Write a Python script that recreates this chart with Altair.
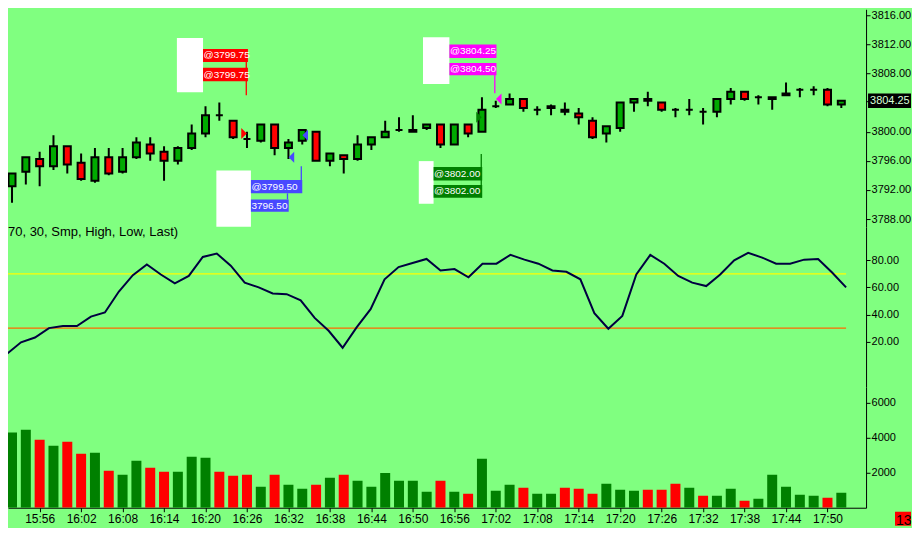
import altair as alt
import pandas as pd

# ---------------- data ----------------
times = ["15:52", "15:54", "15:56", "15:58", "16:00", "16:02", "16:04", "16:06", "16:08", "16:10",
         "16:12", "16:14", "16:16", "16:18", "16:20", "16:22", "16:24", "16:26", "16:28", "16:30",
         "16:32", "16:34", "16:36", "16:38", "16:40", "16:42", "16:44", "16:46", "16:48", "16:50",
         "16:52", "16:54", "16:56", "16:58", "17:00", "17:02", "17:04", "17:06", "17:08", "17:10",
         "17:12", "17:14", "17:16", "17:18", "17:20", "17:22", "17:24", "17:26", "17:28", "17:30",
         "17:32", "17:34", "17:36", "17:38", "17:40", "17:42", "17:44", "17:46", "17:48", "17:50",
         "17:52"]

opens = [3792.5, 3794.5, 3796.25, 3795.25, 3798, 3795.75, 3793.25, 3796.5, 3794.5, 3796.5,
         3798.25, 3797.25, 3796, 3797.75, 3799.75, 3802.25, 3801.5, 3799, 3798.75, 3801,
         3797.75, 3798.75, 3800, 3796, 3796.75, 3796.25, 3798.25, 3799.25, 3800.25, 3800,
         3800.5, 3801, 3798.25, 3801, 3800, 3803.5, 3803.75, 3804.5, 3803, 3803.25,
         3803, 3802.5, 3801.5, 3799.75, 3800.5, 3804, 3804.5, 3804, 3803, 3803,
         3802.75, 3802.75, 3804.5, 3805.5, 3804.75, 3804.5, 3805, 3805.75, 3805.75, 3805.75,
         3803.75]
highs = [3794.25, 3796.5, 3797.25, 3799.5, 3798, 3797, 3797.75, 3797.75, 3797.75, 3799.25,
         3799.25, 3798, 3798, 3801, 3803.5, 3804, 3801.5, 3800, 3801, 3801,
         3799, 3800.25, 3800, 3797, 3796.75, 3799.5, 3799.25, 3801.5, 3802, 3802.25,
         3801, 3801, 3801, 3801, 3804.75, 3804.25, 3805.25, 3804.5, 3803.5, 3803.75,
         3804, 3803.25, 3802, 3800.75, 3804, 3804.5, 3805.5, 3804, 3803.25, 3804.5,
         3803.25, 3804.5, 3806, 3805.5, 3805, 3804.75, 3806.75, 3806, 3806.25, 3806,
         3804.25]
lows = [3790.25, 3792.75, 3792.5, 3794.75, 3794.25, 3793.25, 3793, 3794, 3794.25, 3796.25,
        3796, 3793.25, 3795.5, 3797.5, 3799.25, 3801.5, 3799, 3797.75, 3798.5, 3796.75,
        3796.25, 3798.25, 3796, 3795.25, 3794.25, 3796, 3797.5, 3799.25, 3800, 3800,
        3800.25, 3797.75, 3798.25, 3799.25, 3800, 3803.25, 3803.75, 3802.75, 3802.25, 3802.25,
        3802.25, 3801, 3799, 3798.5, 3800, 3802.75, 3803.5, 3802.75, 3802, 3802.25,
        3801, 3802, 3803.75, 3804.25, 3803.75, 3803, 3805, 3804.75, 3805, 3803.5,
        3803.25]
closes = [3794.25, 3796.5, 3795.25, 3798, 3795.5, 3793.5, 3796.5, 3794.25, 3796.5, 3798.5,
          3797, 3796, 3797.75, 3799.75, 3802.25, 3802.25, 3799.25, 3799, 3801, 3797.75,
          3798.5, 3800.25, 3796, 3797, 3796.25, 3798.25, 3799.25, 3800, 3800.25, 3800.25,
          3801, 3798.25, 3801, 3799.75, 3803, 3803.5, 3804.5, 3803.25, 3803, 3803.5,
          3802.75, 3802, 3799.25, 3800.75, 3804, 3804.5, 3804.25, 3803, 3803, 3803,
          3802.75, 3804.5, 3805.5, 3804.5, 3804.75, 3804.75, 3805.25, 3805.75, 3805.75, 3803.75,
          3804.25]
volumes = [4300, 4460, 3890, 3540, 3770, 3090, 3140, 2110, 1880, 2690,
           2290, 2060, 2060, 2920, 2860, 2060, 1830, 1880, 1200, 1880,
           1310, 1090, 1310, 1710, 1880, 1540, 1200, 1990, 1540, 1540,
           910, 1540, 910, 800, 2800, 970, 1310, 1140, 800, 800,
           1140, 1090, 800, 1370, 1030, 970, 1030, 1030, 1370, 1140,
           690, 690, 1090, 400, 510, 1880, 1200, 740, 690, 570,
           860]
vol_dir = ["up", "up", "down", "up", "down", "down", "up", "down", "up", "up",
           "down", "down", "up", "up", "up", "down", "down", "down", "up", "down",
           "up", "up", "down", "up", "down", "up", "up", "up", "up", "up",
           "up", "down", "up", "down", "up", "up", "up", "down", "up", "up",
           "down", "down", "down", "up", "up", "up", "down", "down", "down", "up",
           "down", "up", "up", "down", "up", "up", "up", "up", "up", "down",
           "up"]
osc_times = ["15:50"] + times
osc_values = [8.5, 11, 19.5, 23, 30, 31.5, 31.5, 38.5, 41.5, 57, 69,
              77, 69.5, 63, 68.5, 82.5, 85, 76, 63.5, 60, 55.5,
              55, 50.5, 37.5, 28, 15.5, 30.5, 44, 66, 75, 78,
              81, 72.5, 73.5, 67.5, 77.5, 77.5, 84, 80.5, 77.5, 72.5,
              71.5, 66, 41, 29.5, 39, 69.5, 84, 77.5, 68.5, 63.5,
              61, 69.5, 80, 85.5, 82, 77.5, 77.5, 80.5, 81, 71,
              60]
osc_levels = [70, 30]
osc_title = "70, 30, Smp, High, Low, Last)"
tick_labels = ["15:56", "16:02", "16:08", "16:14", "16:20", "16:26", "16:32", "16:38", "16:44", "16:50",
               "16:56", "17:02", "17:08", "17:14", "17:20", "17:26", "17:32", "17:38", "17:44", "17:50"]
price_ticks = [3788, 3792, 3796, 3800, 3804.25, 3808, 3812, 3816]
osc_ticks = [20, 40, 60, 80]
vol_ticks = [2000, 4000, 6000]
last_price = 3804.25
timer_text = "13"

# trade fills (time, price, arrow direction, group)
fill_times = ["16:25.57", "16:32.43", "16:34.43", "16:59.57", "17:02.43"]
fill_prices = [3799.75, 3796.5, 3799.5, 3802.0, 3804.5]
fill_side = ["right", "left", "left", "right", "left"]
fill_group = ["A", "B", "B", "C", "D"]

# fill-label annotations, anchored in (time, price) units
label_text = ["@3799.75", "@3799.75", "@3799.50", "3796.50", "@3802.00", "@3802.00", "@3804.25", "@3804.50"]
label_group = ["A", "A", "B", "B", "C", "C", "D", "D"]
label_t0 = ["16:19.64", "16:19.64", "16:26.57", "16:26.57", "16:53.0", "16:53.0", "16:55.29", "16:55.29"]
label_t1 = ["16:26.14", "16:26.14", "16:34.0", "16:32.04", "17:00.04", "17:00.04", "17:02.1", "17:02.1"]
label_top = [3811.37, 3808.77, 3793.35, 3790.70, 3795.14, 3792.67, 3811.98, 3809.45]
label_bot = [3809.59, 3806.94, 3791.53, 3789.00, 3793.31, 3790.92, 3810.14, 3807.76]
blank_t0 = ["16:15.86", "16:21.57", "16:50.86", "16:51.47"]
blank_t1 = ["16:19.64", "16:26.57", "16:53.0", "16:55.29"]
blank_top = [3812.88, 3794.68, 3795.96, 3812.98]
blank_bot = [3805.43, 3786.94, 3790.10, 3806.57]
stem_t = ["16:25.9", "16:33.86", "16:31.86", "16:59.9", "17:01.86"]
stem_group = ["A", "B", "B", "C", "D"]
stem_top = [3810.37, 3795.27, 3791.53, 3796.92, 3807.90]
stem_bot = [3805.02, 3793.35, 3790.70, 3790.92, 3805.29]

group_colors = {"A": "#FF0000", "B": "#4848FF", "C": "#008000", "D": "#FF00FF"}

# ---------------- helpers ----------------
def to_min(t):
    h, m = t.split(":")
    return int(h) * 60 + float(m) - 950


X_DOM = [15 / 7, 874 / 7]
PW = 859
H_PRICE, H_OSC, H_VOL = 218, 160, 121

xs = alt.Scale(domain=X_DOM, nice=False, zero=False)
ps = alt.Scale(domain=[3786.90, 3816.82], nice=False, zero=False)
os_ = alt.Scale(domain=[-13.37, 104.54], nice=False, zero=False)
vs = alt.Scale(domain=[0, 6914], nice=False, zero=False)

FONT = "Liberation Sans"

cdf = pd.DataFrame({"m": [to_min(t) for t in times], "o": opens, "h": highs, "l": lows, "c": closes})
cdf["fill"] = ["#00AA00" if c > o else ("#FF0000" if c < o else "#000000") for o, c in zip(opens, closes)]

vdf = pd.DataFrame({"m": [to_min(t) for t in times], "v": volumes,
                    "fill": ["#008000" if d == "up" else "#FF0000" for d in vol_dir]})
odf = pd.DataFrame({"m": [to_min(t) for t in osc_times], "k": osc_values})
ldf = pd.DataFrame({"xs": [0, 0], "xe": [to_min(times[-1])] * 2, "lv": osc_levels,
                    "col": ["#FFFF00", "#FF6A00"], "w": [1.4, 1.3]})

fdf = pd.DataFrame({"m": [to_min(t) for t in fill_times], "p": fill_prices, "side": fill_side,
                    "col": [group_colors[g] for g in fill_group]})
lab = pd.DataFrame({"x1": [to_min(t) for t in label_t0], "x2": [to_min(t) for t in label_t1],
                    "y1": label_top, "y2": label_bot, "txt": label_text,
                    "col": [group_colors[g] for g in label_group]})
lab["yc"] = (lab["y1"] + lab["y2"]) / 2
wdf = pd.DataFrame({"x1": [to_min(t) for t in blank_t0], "x2": [to_min(t) for t in blank_t1],
                    "y1": blank_top, "y2": blank_bot})
sdf = pd.DataFrame({"m": [to_min(t) for t in stem_t], "y1": stem_top, "y2": stem_bot,
                    "col": [group_colors[g] for g in stem_group]})
cur = pd.DataFrame({"p": [last_price], "lo": [last_price - 1.0], "hi": [last_price + 1.0],
                    "txt": [f"{last_price:.2f}"]})

yax = dict(orient="right", title=None, labelFontSize=11, labelPadding=1)
price_axis = alt.Axis(values=price_ticks,
                      labelExpr=f"datum.value == {last_price} ? '' : format(datum.value, '.2f')", **yax)
osc_axis = alt.Axis(values=osc_ticks, format=".2f", **yax)
vol_axis = alt.Axis(values=vol_ticks, format="d", **yax)


def X(field="m"):
    return alt.X(f"{field}:Q", scale=xs, axis=None)


def PY(field):
    return alt.Y(f"{field}:Q", scale=ps, axis=price_axis)


def OY(field):
    return alt.Y(f"{field}:Q", scale=os_, axis=osc_axis)


# ---------------- price panel ----------------
white = alt.Chart(wdf).mark_rect(color="white").encode(x=X("x1"), x2="x2:Q", y=PY("y1"), y2="y2:Q")
stems = alt.Chart(sdf).mark_rule(strokeWidth=1.3).encode(
    x=X(), y=PY("y1"), y2="y2:Q", color=alt.Color("col:N", scale=None))
boxes = alt.Chart(lab).mark_rect().encode(
    x=X("x1"), x2="x2:Q", y=PY("y1"), y2="y2:Q", fill=alt.Fill("col:N", scale=None))
texts = alt.Chart(lab).mark_text(align="left", baseline="middle", dx=0.5, fontSize=10,
                                 font=FONT, color="white").encode(
    x=X("x1"), y=PY("yc"), text="txt:N")
wicks = alt.Chart(cdf).mark_rule(color="black", strokeWidth=2, clip=True).encode(
    x=X(), y=PY("l"), y2="h:Q")
bodies = alt.Chart(cdf).mark_bar(size=7, stroke="black", strokeWidth=2, clip=True).encode(
    x=X(), y=PY("o"), y2="c:Q", fill=alt.Fill("fill:N", scale=None))
tri_r = alt.Chart(fdf).transform_filter("datum.side == 'right'").mark_point(
    shape="M -0.5 -1 L 0.5 0 L -0.5 1 Z", filled=True, size=121, opacity=1).encode(
    x=X(), y=PY("p"), fill=alt.Fill("col:N", scale=None))
tri_l = alt.Chart(fdf).transform_filter("datum.side == 'left'").mark_point(
    shape="M 0.5 -1 L -0.5 0 L 0.5 1 Z", filled=True, size=121, opacity=1).encode(
    x=X(), y=PY("p"), fill=alt.Fill("col:N", scale=None))
cur_box = alt.Chart(cur).mark_rect(color="black").encode(
    x=alt.value(PW + 2), x2=alt.value(PW + 45), y=PY("lo"), y2="hi:Q")
cur_txt = alt.Chart(cur).mark_text(align="left", baseline="middle", fontSize=11, font=FONT,
                                   color="#D8FFD8").encode(
    x=alt.value(PW + 4), y=PY("p"), text="txt:N")

price = alt.layer(white, stems, boxes, texts, wicks, bodies, tri_r, tri_l, cur_box, cur_txt).properties(
    width=PW, height=H_PRICE)

# ---------------- oscillator panel ----------------
levels = alt.Chart(ldf).mark_rule(clip=True).encode(
    x=X("xs"), x2="xe:Q", y=OY("lv"),
    color=alt.Color("col:N", scale=None), strokeWidth=alt.StrokeWidth("w:Q", scale=None))
osc_line = alt.Chart(odf).mark_line(color="#000040", strokeWidth=2, clip=True).encode(
    x=X(), y=OY("k"))
osc_lab = alt.Chart(pd.DataFrame({"txt": [osc_title]})).mark_text(
    align="left", baseline="middle", fontSize=13, font=FONT, color="black").encode(
    x=alt.value(0), y=alt.value(5), text="txt:N")
osc = alt.layer(levels, osc_line, osc_lab).properties(width=PW, height=H_OSC)

# ---------------- volume panel ----------------
tick_pos = [to_min(t) for t in tick_labels]
lab_arr = "[" + ",".join(f"'{t}'" for t in tick_labels) + "]"
x_axis = alt.Axis(orient="bottom", values=tick_pos, title=None, labelFontSize=12, labelPadding=2,
                  labelExpr=f"{lab_arr}[round((datum.value - {tick_pos[0]}) / 6)]")
vbars = alt.Chart(vdf).mark_bar(size=10, clip=True).encode(
    x=alt.X("m:Q", scale=xs, axis=x_axis),
    y=alt.Y("v:Q", scale=vs, axis=vol_axis),
    fill=alt.Fill("fill:N", scale=None))
tdf = pd.DataFrame({"txt": [timer_text]})
timer_box = alt.Chart(tdf).mark_rect(color="#FF0000").encode(
    x=alt.value(PW + 29), x2=alt.value(PW + 45), y=alt.value(H_VOL + 4), y2=alt.value(H_VOL + 18))
timer_txt = alt.Chart(tdf).mark_text(align="left", baseline="alphabetic", fontSize=14,
                                     font=FONT, color="black").encode(
    x=alt.value(PW + 30), y=alt.value(H_VOL + 17), text="txt:N")
vol = alt.layer(vbars, timer_box, timer_txt).properties(width=PW, height=H_VOL)

chart = alt.vconcat(price, osc, vol, spacing=0, bounds="flush").properties(
    padding=0, background="#80FF80"
).configure_view(stroke=None).configure_axis(
    labelFont=FONT, labelColor="black", domainColor="black", domainWidth=1,
    tickColor="black", tickSize=4, tickWidth=1, grid=False,
    labelFlush=False, labelOverlap=False
)

chart.save("out.html", embed_options={"renderer": "svg", "actions": False})
